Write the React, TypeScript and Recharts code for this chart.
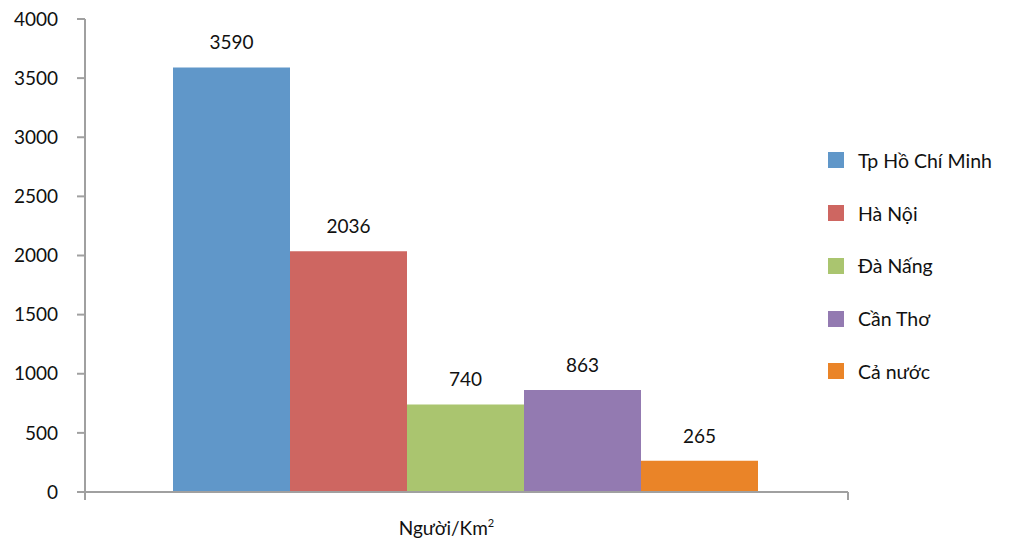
import React from 'react';
import { BarChart, Bar, XAxis, YAxis, LabelList } from 'recharts';

// Population density by city (people per km²)
const categories = ['Người/Km'];
const seriesNames = ['Tp Hồ Chí Minh', 'Hà Nội', 'Đà Nấng', 'Cần Thơ', 'Cả nước'];
const seriesValues = [3590, 2036, 740, 863, 265];
const seriesColors = ['#6097C9', '#CE6661', '#AAC56F', '#937AB1', '#EA8428'];
const yTicks = [0, 500, 1000, 1500, 2000, 2500, 3000, 3500, 4000];

const data = categories.map((name) => {
  const row: Record<string, string | number> = { name };
  seriesNames.forEach((s, i) => {
    row[`s${i}`] = seriesValues[i];
  });
  return row;
});

const FONT = 'Lato, "Open Sans", sans-serif';
const AXIS = '#A0A0A0';

const CategoryTick = (props: any) => {
  const { x, y, payload } = props;
  const off = payload.offset ?? 0;
  const axisY = y - 8;
  return (
    <g>
      <line x1={x - off} y1={axisY} x2={x - off} y2={axisY + 8} stroke={AXIS} strokeWidth={2} />
      <line x1={x + off} y1={axisY} x2={x + off} y2={axisY + 8} stroke={AXIS} strokeWidth={2} />
      <text x={x - 20} y={axisY + 43} textAnchor="middle" fontFamily={FONT} fontSize={19} fill="#111">
        {payload.value}
        <tspan dy={-8} fontSize={11}>2</tspan>
      </text>
    </g>
  );
};

const SeriesLegend = () => (
  <div
    style={{
      position: 'absolute',
      left: 828,
      top: 134,
      fontFamily: FONT,
      fontSize: 19.5,
      color: '#111',
    }}
  >
    {seriesNames.map((s, i) => (
      <div key={s} style={{ display: 'flex', alignItems: 'center', height: 52.75 }}>
        <span
          style={{
            display: 'inline-block',
            width: 16,
            height: 16,
            background: seriesColors[i],
            marginRight: 14,
          }}
        />
        <span style={{ whiteSpace: 'nowrap' }}>{s}</span>
      </div>
    ))}
  </div>
);

export default function App() {
  return (
    <div style={{ position: 'absolute', left: 0, top: 0, width: 1015, height: 545, background: '#fff' }}>
      <BarChart
        width={1015}
        height={545}
        data={data}
        margin={{ top: 19, right: 167, bottom: 0, left: 0 }}
        barCategoryGap={88}
        barGap={0}
      >
        <YAxis
          width={85}
          domain={[0, 4000]}
          ticks={yTicks}
          interval={0}
          axisLine={{ stroke: AXIS, strokeWidth: 2 }}
          tickLine={{ stroke: AXIS, strokeWidth: 2 }}
          tickSize={8}
          tickMargin={19}
          tick={{ fontFamily: FONT, fontSize: 19, fill: '#111' }}
        />
        <XAxis
          dataKey="name"
          height={53}
          axisLine={{ stroke: AXIS, strokeWidth: 2 }}
          tickLine={false}
          tickSize={8}
          tickMargin={0}
          tick={<CategoryTick />}
          interval={0}
        />
        {seriesNames.map((s, i) => (
          <Bar key={s} dataKey={`s${i}`} name={s} fill={seriesColors[i]} isAnimationActive={false}>
            <LabelList
              dataKey={`s${i}`}
              position="top"
              offset={18}
              style={{ fontFamily: FONT, fontSize: 19, fill: '#111' }}
            />
          </Bar>
        ))}
      </BarChart>
      <SeriesLegend />
    </div>
  );
}
